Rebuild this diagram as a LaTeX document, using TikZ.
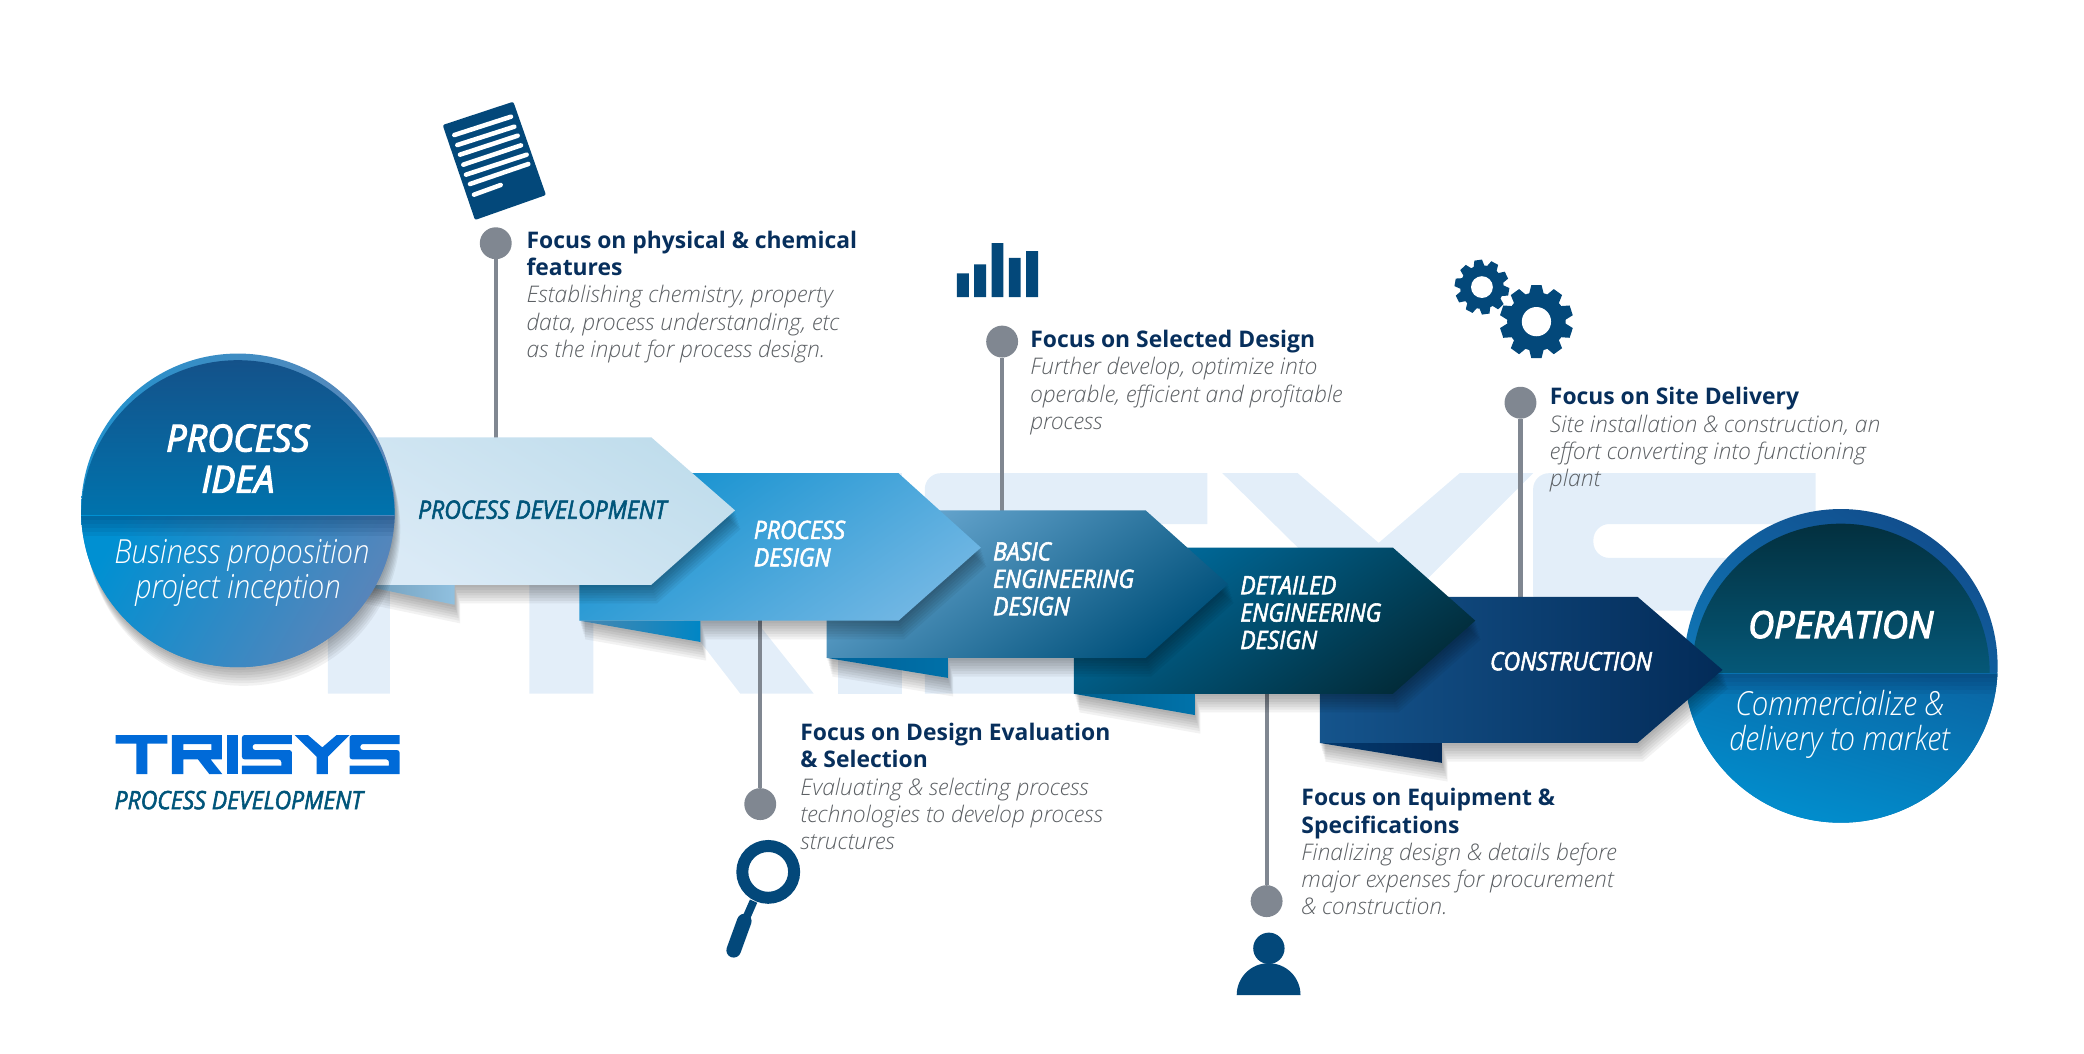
\documentclass[tikz,border=0pt]{standalone}
\usepackage{fontspec}
\usepackage{xcolor}
\usepackage{tikz}
\setmainfont{Open Sans}
\newfontfamily\lightfont{Open Sans Light}
\newfontfamily\condfont[FakeStretch=0.91,FakeBold=2.2]{Open Sans}
\newfontfamily\titlefont[FakeStretch=0.97,FakeBold=3.2]{Open Sans}
\newfontfamily\condlight[FakeStretch=0.882]{Open Sans Light}
\definecolor{washblue}{HTML}{E3EEF9}
\definecolor{stemgray}{HTML}{808791}
\definecolor{iconblue}{HTML}{03487A}
\definecolor{headnavy}{HTML}{072F5C}
\definecolor{bodygray}{HTML}{5C6064}
\definecolor{logoblue}{HTML}{006AD8}
\definecolor{teallabel}{HTML}{00557A}
\definecolor{opRimA}{HTML}{114F8E}
\definecolor{opRimB}{HTML}{0F85C5}
\definecolor{opTopA}{HTML}{03303F}
\definecolor{opTopB}{HTML}{055878}
\definecolor{opLowA}{HTML}{0A68A6}
\definecolor{opLowB}{HTML}{0092D2}
\definecolor{ideaRimA}{HTML}{2092CE}
\definecolor{ideaRimB}{HTML}{5E87B8}
\definecolor{ideaTopA}{HTML}{14528A}
\definecolor{ideaTopB}{HTML}{0073AD}
\definecolor{ideaLowA}{HTML}{0090D2}
\definecolor{ideaLowB}{HTML}{6084B8}
\definecolor{stageOneA}{HTML}{C0DDEC}
\definecolor{stageOneB}{HTML}{DAEAF6}
\definecolor{stageTwoA}{HTML}{1692D0}
\definecolor{stageTwoB}{HTML}{70B6E3}
\definecolor{stageThreeA}{HTML}{69A8D1}
\definecolor{stageThreeB}{HTML}{00507A}
\definecolor{stageFourA}{HTML}{006C9E}
\definecolor{stageFourB}{HTML}{022C3A}
\definecolor{stageFiveA}{HTML}{15548C}
\definecolor{stageFiveB}{HTML}{032B58}
\definecolor{foldOneA}{HTML}{6F9BB8}
\definecolor{foldOneB}{HTML}{90C0DF}
\definecolor{foldTwoA}{HTML}{4A87B0}
\definecolor{foldTwoB}{HTML}{0086C5}
\definecolor{foldThreeA}{HTML}{00639A}
\definecolor{foldThreeB}{HTML}{0070A8}
\definecolor{foldFourA}{HTML}{00608E}
\definecolor{foldFourB}{HTML}{0072AA}
\definecolor{foldFiveA}{HTML}{03396E}
\definecolor{foldFiveB}{HTML}{042B58}
\tikzset{
    stemline/.style={stemgray, line width=3.2pt},
    stemdot/.style={circle, fill=stemgray, minimum size=24pt, inner sep=0pt},
    focustext/.style={anchor=north west, inner sep=0pt, align=left, font=\fontsize{17.2}{20.5}\selectfont},
    stagelabel/.style={inner sep=0pt, align=left, text=white, font=\condfont\itshape\fontsize{19}{20.6}\selectfont},
    bigtitle/.style={inner sep=0pt, align=center, text=white, font=\titlefont\itshape\fontsize{28}{31}\selectfont},
    bigcaption/.style={inner sep=0pt, align=center, text=white, font=\condlight\itshape\fontsize{25}{26}\selectfont},
}
\newcommand{\focushead}[1]{{\bfseries\color{headnavy}#1}}
\newcommand{\focusbody}[1]{{\lightfont\itshape\color{bodygray}#1}}
\newcommand{\softshadow}[1]{%
    \foreach \s in {2,4,...,14} {\fill[black, opacity=0.05, xshift=0.3*\s, yshift=-\s] #1;}}
% letters of the mark, 852 wide and 117 high
\newcommand{\trisysmark}[1]{%
    \fill (33,30) -- (188,30) -- (188,56) -- (128,56) -- (128,147) -- (95,147) -- (95,56) -- (33,56) -- cycle;
    \fill[even odd rule] (202,30) -- (352,30) -- (352,103) -- (318,103) -- (353,147) -- (314,147) -- (280,103) -- (236,103) -- (236,147) -- (202,147) -- cycle
        (236,57) -- (320,57) -- (320,75) -- (236,75) -- cycle;
    \fill (366,30) rectangle (400,147);
    \foreach \sx in {412,735} {
        \fill ({\sx+150},30) -- ({\sx+150},57) [rounded corners=#1] -- ({\sx+32},57) -- ({\sx+32},75) -- ({\sx+150},75) [sharp corners] -- ({\sx+150},147) -- (\sx,147) -- (\sx,122) -- ({\sx+118},122) [rounded corners=#1] -- ({\sx+118},103) -- (\sx,103) -- (\sx,30) -- ({\sx+80},30) [sharp corners] -- cycle;
    }
    \fill (570,30) -- (610,30) -- (653,67) -- (696,30) -- (735,30) -- (670,95) -- (670,147) -- (636,147) -- (636,95) -- cycle;
}
\newcommand{\gearicon}[4]{%
    \begin{scope}[shift={(#1,#2)}]
        \fill[iconblue] (0,0) circle[radius=0.8*#3];
        \foreach \a in {0,36,...,324} {
            \fill[iconblue, rotate=\a+#4] ({-0.2*#3},{-0.76*#3}) -- ({-0.14*#3},{-#3}) -- ({0.14*#3},{-#3}) -- ({0.2*#3},{-0.76*#3}) -- cycle;
        }
        \fill[white] (0,0) circle[radius=0.4*#3];
    \end{scope}}

\begin{document}
\begin{tikzpicture}[x=1pt, y=-1pt]
    \useasboundingbox (0,0) rectangle (1568,793);

    % pale mark behind everything
    \begin{scope}[shift={(112,313.5)}, x=1.417pt, y=-1.417pt, washblue]
        \trisysmark{12pt}
    \end{scope}

    % stems
    \node[stemdot] (dotA) at (373,183) {};
    \node[stemdot] (dotB) at (572,605) {};
    \node[stemdot] (dotC) at (754,257) {};
    \node[stemdot] (dotD) at (953,678) {};
    \node[stemdot] (dotE) at (1144,303) {};
    \coordinate (edgeA) at (373,330);
    \coordinate (edgeB) at (572,466);
    \coordinate (edgeC) at (754,385);
    \coordinate (edgeD) at (953,521);
    \coordinate (edgeE) at (1144,450);
    \draw[stemline] (dotA) -- (edgeA);
    \draw[stemline] (dotB) -- (edgeB);
    \draw[stemline] (dotC) -- (edgeC);
    \draw[stemline] (dotD) -- (edgeD);
    \draw[stemline] (dotE) -- (edgeE);

    % operation circle
    \shade[top color=opRimA, bottom color=opRimB, shading angle=-30] (1385,501) circle[radius=118];
    \begin{scope}
        \clip (1385,501) circle[radius=118];
        \begin{scope}
            \clip (1385,506) circle[radius=112];
            \shade[top color=opTopA, bottom color=opTopB] (1260,394) rectangle (1510,507);
        \end{scope}
        \shade[top color=opLowA, bottom color=opLowB, shading angle=-15] (1260,507) rectangle (1510,625);
        \foreach \s in {3,6,...,15} {\fill[headnavy, opacity=0.09] (1260,507) rectangle (1510,507+\s);}
    \end{scope}

    % stage 5
    \softshadow{(993,449) -- (1232,449) -- (1296,504) -- (1232,559) -- (1085,559) -- (1085,574) -- (993,559) -- cycle}
    \shade[top color=foldFiveA, bottom color=foldFiveB, shading angle=90] (1085,559) -- (993,559) -- (1085,574) -- cycle;
    \shade[top color=stageFiveA, bottom color=stageFiveB, shading angle=90] (993,449) -- (1232,449) -- (1296,504) -- (1232,559) -- (993,559) -- cycle;

    % stage 4
    \softshadow{(808,412) -- (1048,412) -- (1110,467) -- (1048,522) -- (899,522) -- (899,538) -- (808,522) -- cycle}
    \shade[top color=foldFourA, bottom color=foldFourB, shading angle=90] (899,522) -- (808,522) -- (899,538) -- cycle;
    \shade[top color=stageFourA, bottom color=stageFourB, shading angle=35] (808,412) -- (1048,412) -- (1110,467) -- (1048,522) -- (808,522) -- cycle;

    % stage 3
    \softshadow{(622,384) -- (862,384) -- (924,439.5) -- (862,495) -- (713,495) -- (713,510) -- (622,495) -- cycle}
    \shade[top color=foldThreeA, bottom color=foldThreeB, shading angle=90] (713,495) -- (622,495) -- (713,510) -- cycle;
    \shade[top color=stageThreeA, bottom color=stageThreeB, shading angle=35] (622,384) -- (862,384) -- (924,439.5) -- (862,495) -- (622,495) -- cycle;

    % stage 2
    \softshadow{(436,356) -- (676,356) -- (738,412) -- (676,467) -- (527,467) -- (527,483) -- (436,467) -- cycle}
    \shade[top color=foldTwoA, bottom color=foldTwoB, shading angle=90] (527,467) -- (436,467) -- (527,483) -- cycle;
    \shade[top color=stageTwoA, bottom color=stageTwoB, shading angle=35] (436,356) -- (676,356) -- (738,412) -- (676,467) -- (436,467) -- cycle;

    % stage 1
    \softshadow{(270,329) -- (490,329) -- (553,384) -- (490,440) -- (342,440) -- (342,455) -- (270,440) -- cycle}
    \shade[top color=foldOneA, bottom color=foldOneB, shading angle=90] (342,440) -- (270,440) -- (342,455) -- cycle;
    \shade[top color=stageOneA, bottom color=stageOneB, shading angle=-30] (270,329) -- (490,329) -- (553,384) -- (490,440) -- (270,440) -- cycle;

    % idea circle
    \softshadow{(179,384) circle[radius=118]}
    \shade[top color=ideaRimA, bottom color=ideaRimB, shading angle=90] (179,384) circle[radius=118];
    \begin{scope}
        \clip (179,384) circle[radius=118];
        \begin{scope}
            \clip (179,389) circle[radius=118];
            \shade[top color=ideaTopA, bottom color=ideaTopB] (50,271) rectangle (310,388);
        \end{scope}
        \shade[top color=ideaLowA, bottom color=ideaLowB, shading angle=60] (50,388) rectangle (310,510);
        \foreach \s in {3,6,...,15} {\fill[headnavy, opacity=0.09] (50,388) rectangle (310,388+\s);}
    \end{scope}

    % labels
    \node[bigtitle] (ideaTitle) at (179,345) {PROCESS\\IDEA};
    \node[bigcaption] (ideaText) at (182,431) {Business proposition\\project inception\hspace*{6pt}};
    \node[bigtitle] (opTitle) at (1385,470) {OPERATION};
    \node[bigcaption] (opText) at (1384,545) {Commercialize \&\\delivery to market};
    \node[stagelabel, text=teallabel] (stageA) at (408,383.5) {PROCESS DEVELOPMENT};
    \node[stagelabel, anchor=west] (stageB) at (567,409) {PROCESS\\DESIGN};
    \node[stagelabel, anchor=west] (stageC) at (747,435.5) {BASIC\\ENGINEERING\\DESIGN};
    \node[stagelabel, anchor=west] (stageD) at (933,461) {DETAILED\\ENGINEERING\\DESIGN};
    \node[stagelabel] (stageE) at (1182,497.5) {CONSTRUCTION};

    % focus texts
    \node[focustext] (focusA) at (396,173.7) {\focushead{Focus on physical \& chemical}\\\focushead{features}\\\focusbody{Establishing chemistry, property}\\\focusbody{data, process understanding, etc}\\\focusbody{as the input for process design.}};
    \node[focustext] (focusB) at (602,544) {\focushead{Focus on Design Evaluation}\\\focushead{\& Selection}\\\focusbody{Evaluating \& selecting process}\\\focusbody{technologies to develop process}\\\focusbody{structures}};
    \node[focustext] (focusC) at (775,248.3) {\focushead{Focus on Selected Design}\\\focusbody{Further develop, optimize into}\\\focusbody{operable, efficient and profitable}\\\focusbody{process}};
    \node[focustext] (focusD) at (979,593) {\focushead{Focus on Equipment \&}\\\focushead{Specifications}\\\focusbody{Finalizing design \& details before}\\\focusbody{major expenses for procurement}\\\focusbody{\& construction.}};
    \node[focustext] (focusE) at (1166,291.3) {\focushead{Focus on Site Delivery}\\\focusbody{Site installation \& construction, an}\\\focusbody{effort converting into functioning}\\\focusbody{plant}};

    % logo
    \begin{scope}[shift={(78.7,545.5)}, x=0.2508pt, y=-0.2508pt, logoblue]
        \trisysmark{2pt}
    \end{scope}
    \node[stagelabel, anchor=west, text=teallabel] (logoText) at (86,602) {PROCESS DEVELOPMENT};

    % document icon
    \begin{scope}[shift={(316,60.2)}, x=0.2508pt, y=-0.2508pt]
        \fill[iconblue, rounded corners=1.5pt] (68,135) -- (280,65) -- (378,345) -- (165,420) -- cycle;
        \draw[white, line width=3.4pt, line cap=round] (103,165) -- (273,110) (112,195) -- (283,140) (120,224) -- (293,167) (130,254) -- (303,196) (138,284) -- (320,224) (150,312) -- (325,252) (162,344) -- (242,315);
    \end{scope}

    % bars icon
    \fill[iconblue] (720,205.7) rectangle (729,223.6) (733,198.9) rectangle (742,223.6) (746,183) rectangle (755,223.6) (759,194) rectangle (768,223.6) (772,189) rectangle (781,223.6);

    % gears icon
    \gearicon{1115}{216}{20.5}{8}
    \gearicon{1156}{242}{27.5}{0}

    % magnifier icon
    \draw[iconblue, line width=9pt] (578,656) circle[radius=19.5];
    \draw[iconblue, line width=6pt] (567,678) -- (560,694);
    \draw[iconblue, line width=11pt, line cap=round] (560,693) -- (552,715);

    % person icon
    \fill[iconblue] (954.7,713.5) circle[radius=11.8];
    \fill[iconblue] (930.5,748.7) .. controls (930.5,735.4) and (941.2,724.7) .. (954.5,724.7) .. controls (967.8,724.7) and (978.5,735.4) .. (978.5,748.7) -- cycle;
\end{tikzpicture}
\end{document}
